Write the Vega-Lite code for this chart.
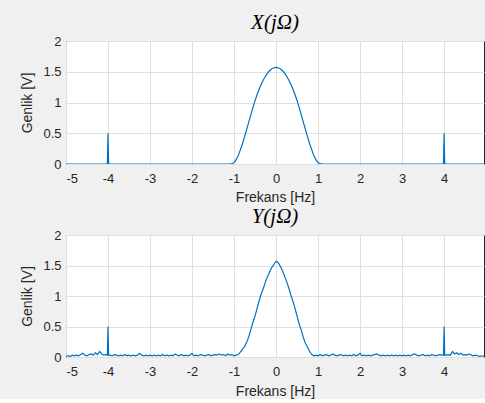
{
  "$schema": "https://vega.github.io/schema/vega-lite/v6.json",
  "background": "#F0F0F0",
  "padding": {"left": 20, "top": 11, "right": 0, "bottom": 0},
  "spacing": 71,
  "bounds": "flush",
  "config": {
    "view": {"stroke": "#262626", "strokeWidth": 1, "fill": "#FFFFFF"},
    "axis": {
      "labelFont": "Liberation Sans", "labelFontSize": 13, "labelColor": "#262626",
      "titleFont": "Liberation Sans", "titleFontSize": 14, "titleFontWeight": "normal", "titleColor": "#262626",
      "gridColor": "#DFDFDF", "gridOpacity": 1, "domain": false,
      "ticks": false, "labelExpr": "'' + datum.value"
    },
    "title": {"font": "Liberation Serif", "fontSize": 21, "fontStyle": "italic", "fontWeight": "normal", "color": "#000000", "offset": 2}
  },
  "datasets": {
    "top": [
      {"f": -5, "a": 0}, {"f": -4.015, "a": 0}, {"f": -4, "a": 0.5}, {"f": -3.985, "a": 0},
      {"f": -1.1, "a": 0}, {"f": -1.05, "a": 0.005}, {"f": -1.0, "a": 0.02}, {"f": -0.95, "a": 0.07},
      {"f": -0.9, "a": 0.14}, {"f": -0.85, "a": 0.23}, {"f": -0.8, "a": 0.33}, {"f": -0.75, "a": 0.44},
      {"f": -0.7, "a": 0.56}, {"f": -0.65, "a": 0.68}, {"f": -0.6, "a": 0.8}, {"f": -0.55, "a": 0.92},
      {"f": -0.5, "a": 1.03}, {"f": -0.45, "a": 1.13}, {"f": -0.4, "a": 1.22}, {"f": -0.35, "a": 1.3},
      {"f": -0.3, "a": 1.37}, {"f": -0.25, "a": 1.43}, {"f": -0.2, "a": 1.48}, {"f": -0.15, "a": 1.52},
      {"f": -0.1, "a": 1.55}, {"f": -0.05, "a": 1.565}, {"f": 0, "a": 1.57},
      {"f": 0.05, "a": 1.565}, {"f": 0.1, "a": 1.55}, {"f": 0.15, "a": 1.52}, {"f": 0.2, "a": 1.48},
      {"f": 0.25, "a": 1.43}, {"f": 0.3, "a": 1.37}, {"f": 0.35, "a": 1.3}, {"f": 0.4, "a": 1.22},
      {"f": 0.45, "a": 1.13}, {"f": 0.5, "a": 1.03}, {"f": 0.55, "a": 0.92}, {"f": 0.6, "a": 0.8},
      {"f": 0.65, "a": 0.68}, {"f": 0.7, "a": 0.56}, {"f": 0.75, "a": 0.44}, {"f": 0.8, "a": 0.33},
      {"f": 0.85, "a": 0.23}, {"f": 0.9, "a": 0.14}, {"f": 0.95, "a": 0.07}, {"f": 1.0, "a": 0.02},
      {"f": 1.05, "a": 0.005}, {"f": 1.1, "a": 0},
      {"f": 3.985, "a": 0}, {"f": 4, "a": 0.5}, {"f": 4.015, "a": 0}, {"f": 4.95, "a": 0}
    ],
    "bottom": [
      {"f": -5.0, "a": 0.01}, {"f": -4.95, "a": 0.02}, {"f": -4.9, "a": 0.01}, {"f": -4.85, "a": 0.03},
      {"f": -4.8, "a": 0.02}, {"f": -4.75, "a": 0.03}, {"f": -4.7, "a": 0.02}, {"f": -4.65, "a": 0.04},
      {"f": -4.6, "a": 0.06}, {"f": -4.55, "a": 0.03}, {"f": -4.5, "a": 0.02}, {"f": -4.45, "a": 0.04},
      {"f": -4.4, "a": 0.05}, {"f": -4.35, "a": 0.03}, {"f": -4.3, "a": 0.07}, {"f": -4.25, "a": 0.04},
      {"f": -4.2, "a": 0.09}, {"f": -4.15, "a": 0.05}, {"f": -4.1, "a": 0.03}, {"f": -4.05, "a": 0.04},
      {"f": -4.015, "a": 0.03}, {"f": -4.0, "a": 0.5}, {"f": -3.985, "a": 0.03},
      {"f": -3.95, "a": 0.03}, {"f": -3.9, "a": 0.02}, {"f": -3.85, "a": 0.04}, {"f": -3.8, "a": 0.03},
      {"f": -3.75, "a": 0.02}, {"f": -3.7, "a": 0.03}, {"f": -3.65, "a": 0.02}, {"f": -3.6, "a": 0.04},
      {"f": -3.55, "a": 0.02}, {"f": -3.5, "a": 0.03}, {"f": -3.45, "a": 0.02}, {"f": -3.4, "a": 0.03},
      {"f": -3.35, "a": 0.02}, {"f": -3.3, "a": 0.03}, {"f": -3.25, "a": 0.06}, {"f": -3.2, "a": 0.03},
      {"f": -3.15, "a": 0.02}, {"f": -3.1, "a": 0.03}, {"f": -3.05, "a": 0.02}, {"f": -3.0, "a": 0.03},
      {"f": -2.95, "a": 0.02}, {"f": -2.9, "a": 0.03}, {"f": -2.85, "a": 0.02}, {"f": -2.8, "a": 0.03},
      {"f": -2.75, "a": 0.02}, {"f": -2.7, "a": 0.04}, {"f": -2.65, "a": 0.02}, {"f": -2.6, "a": 0.03},
      {"f": -2.55, "a": 0.02}, {"f": -2.5, "a": 0.03}, {"f": -2.45, "a": 0.02}, {"f": -2.4, "a": 0.05},
      {"f": -2.35, "a": 0.03}, {"f": -2.3, "a": 0.02}, {"f": -2.25, "a": 0.04}, {"f": -2.2, "a": 0.02},
      {"f": -2.15, "a": 0.03}, {"f": -2.1, "a": 0.02}, {"f": -2.05, "a": 0.03}, {"f": -2.0, "a": 0.06},
      {"f": -1.95, "a": 0.02}, {"f": -1.9, "a": 0.03}, {"f": -1.85, "a": 0.02}, {"f": -1.8, "a": 0.04},
      {"f": -1.75, "a": 0.03}, {"f": -1.7, "a": 0.02}, {"f": -1.65, "a": 0.03}, {"f": -1.6, "a": 0.04},
      {"f": -1.55, "a": 0.02}, {"f": -1.5, "a": 0.03}, {"f": -1.45, "a": 0.04}, {"f": -1.4, "a": 0.03},
      {"f": -1.35, "a": 0.05}, {"f": -1.3, "a": 0.03}, {"f": -1.25, "a": 0.04}, {"f": -1.2, "a": 0.02},
      {"f": -1.15, "a": 0.05}, {"f": -1.1, "a": 0.03}, {"f": -1.05, "a": 0.04}, {"f": -1.0, "a": 0.02},
      {"f": -0.95, "a": 0.03},
      {"f": -0.9, "a": 0.04}, {"f": -0.85, "a": 0.08}, {"f": -0.8, "a": 0.13}, {"f": -0.75, "a": 0.17},
      {"f": -0.7, "a": 0.24}, {"f": -0.65, "a": 0.33}, {"f": -0.6, "a": 0.45}, {"f": -0.55, "a": 0.57},
      {"f": -0.5, "a": 0.67}, {"f": -0.45, "a": 0.8}, {"f": -0.4, "a": 0.93}, {"f": -0.35, "a": 1.04},
      {"f": -0.3, "a": 1.13}, {"f": -0.25, "a": 1.24}, {"f": -0.2, "a": 1.32}, {"f": -0.15, "a": 1.4},
      {"f": -0.1, "a": 1.47}, {"f": -0.05, "a": 1.52}, {"f": 0.0, "a": 1.57}, {"f": 0.05, "a": 1.55},
      {"f": 0.1, "a": 1.49}, {"f": 0.15, "a": 1.42}, {"f": 0.2, "a": 1.33}, {"f": 0.25, "a": 1.24},
      {"f": 0.3, "a": 1.14}, {"f": 0.35, "a": 1.02}, {"f": 0.4, "a": 0.92}, {"f": 0.45, "a": 0.8},
      {"f": 0.5, "a": 0.67}, {"f": 0.55, "a": 0.54}, {"f": 0.6, "a": 0.44}, {"f": 0.65, "a": 0.32},
      {"f": 0.7, "a": 0.22}, {"f": 0.75, "a": 0.16}, {"f": 0.8, "a": 0.09}, {"f": 0.85, "a": 0.04},
      {"f": 0.9, "a": 0.02},
      {"f": 0.95, "a": 0.03}, {"f": 1.0, "a": 0.02}, {"f": 1.05, "a": 0.04}, {"f": 1.1, "a": 0.02},
      {"f": 1.15, "a": 0.03}, {"f": 1.2, "a": 0.04}, {"f": 1.25, "a": 0.02}, {"f": 1.3, "a": 0.03},
      {"f": 1.35, "a": 0.05}, {"f": 1.4, "a": 0.03}, {"f": 1.45, "a": 0.02}, {"f": 1.5, "a": 0.03},
      {"f": 1.55, "a": 0.04}, {"f": 1.6, "a": 0.02}, {"f": 1.65, "a": 0.03}, {"f": 1.7, "a": 0.02},
      {"f": 1.75, "a": 0.03}, {"f": 1.8, "a": 0.02}, {"f": 1.85, "a": 0.04}, {"f": 1.9, "a": 0.02},
      {"f": 1.95, "a": 0.03}, {"f": 2.0, "a": 0.06}, {"f": 2.05, "a": 0.02}, {"f": 2.1, "a": 0.03},
      {"f": 2.15, "a": 0.02}, {"f": 2.2, "a": 0.03}, {"f": 2.25, "a": 0.02}, {"f": 2.3, "a": 0.03},
      {"f": 2.35, "a": 0.04}, {"f": 2.4, "a": 0.05}, {"f": 2.45, "a": 0.03}, {"f": 2.5, "a": 0.02},
      {"f": 2.55, "a": 0.03}, {"f": 2.6, "a": 0.02}, {"f": 2.65, "a": 0.03}, {"f": 2.7, "a": 0.02},
      {"f": 2.75, "a": 0.03}, {"f": 2.8, "a": 0.02}, {"f": 2.85, "a": 0.03}, {"f": 2.9, "a": 0.02},
      {"f": 2.95, "a": 0.03}, {"f": 3.0, "a": 0.02}, {"f": 3.05, "a": 0.03}, {"f": 3.1, "a": 0.02},
      {"f": 3.15, "a": 0.03}, {"f": 3.2, "a": 0.02}, {"f": 3.25, "a": 0.04}, {"f": 3.3, "a": 0.05},
      {"f": 3.35, "a": 0.03}, {"f": 3.4, "a": 0.02}, {"f": 3.45, "a": 0.03}, {"f": 3.5, "a": 0.04},
      {"f": 3.55, "a": 0.02}, {"f": 3.6, "a": 0.03}, {"f": 3.65, "a": 0.02}, {"f": 3.7, "a": 0.04},
      {"f": 3.75, "a": 0.03}, {"f": 3.8, "a": 0.02}, {"f": 3.85, "a": 0.03}, {"f": 3.9, "a": 0.04},
      {"f": 3.95, "a": 0.03}, {"f": 3.985, "a": 0.03}, {"f": 4.0, "a": 0.5}, {"f": 4.015, "a": 0.03},
      {"f": 4.05, "a": 0.03}, {"f": 4.1, "a": 0.04}, {"f": 4.15, "a": 0.03}, {"f": 4.2, "a": 0.09},
      {"f": 4.25, "a": 0.05}, {"f": 4.3, "a": 0.07}, {"f": 4.35, "a": 0.04}, {"f": 4.4, "a": 0.06},
      {"f": 4.45, "a": 0.03}, {"f": 4.5, "a": 0.04}, {"f": 4.55, "a": 0.03}, {"f": 4.6, "a": 0.05},
      {"f": 4.65, "a": 0.03}, {"f": 4.7, "a": 0.02}, {"f": 4.75, "a": 0.03}, {"f": 4.8, "a": 0.02},
      {"f": 4.85, "a": 0.01}, {"f": 4.9, "a": 0.02}, {"f": 4.95, "a": 0.01}
    ]
  },
  "vconcat": [
    {
      "title": "X(jΩ)",
      "width": 418,
      "height": 123,
      "data": {"name": "top"},
      "mark": {"type": "line", "color": "#0072BD", "strokeWidth": 1.2, "clip": true},
      "encoding": {
        "x": {"field": "f", "type": "quantitative", "scale": {"domain": [-5, 4.95], "nice": false, "zero": false},
              "axis": {"values": [-5, -4, -3, -2, -1, 0, 1, 2, 3, 4], "title": "Frekans [Hz]", "labelPadding": 8, "titlePadding": 5}},
        "y": {"field": "a", "type": "quantitative", "scale": {"domain": [0, 2], "nice": false},
              "axis": {"values": [0, 0.5, 1, 1.5, 2], "title": "Genlik [V]", "labelPadding": 5, "titlePadding": 8}}
      }
    },
    {
      "title": "Y(jΩ)",
      "width": 418,
      "height": 122,
      "data": {"name": "bottom"},
      "mark": {"type": "line", "color": "#0072BD", "strokeWidth": 1.2, "clip": true},
      "encoding": {
        "x": {"field": "f", "type": "quantitative", "scale": {"domain": [-5, 4.95], "nice": false, "zero": false},
              "axis": {"values": [-5, -4, -3, -2, -1, 0, 1, 2, 3, 4], "title": "Frekans [Hz]", "labelPadding": 8, "titlePadding": 6}},
        "y": {"field": "a", "type": "quantitative", "scale": {"domain": [0, 2], "nice": false},
              "axis": {"values": [0, 0.5, 1, 1.5, 2], "title": "Genlik [V]", "labelPadding": 5, "titlePadding": 8}}
      }
    }
  ]
}
